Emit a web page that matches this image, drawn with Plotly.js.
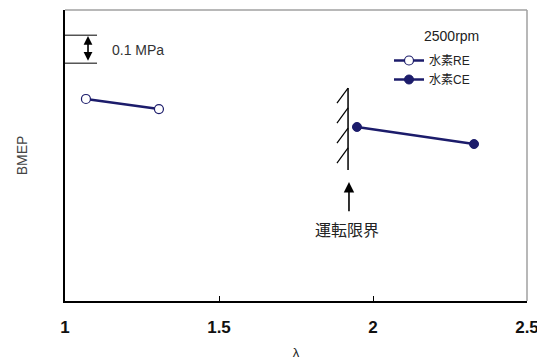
<!DOCTYPE html>
<html>
<head>
<meta charset="utf-8">
<script src="https://cdn.plot.ly/plotly-3.0.1.min.js"></script>
<style>html,body{margin:0;padding:0;background:#fff;}#chart{width:537px;height:360px;}</style>
</head>
<body>
<div id="chart"></div>
<script>
// Data (x = λ, y = BMEP in MPa, arbitrary offset)
var reLambda = [1.068, 1.305];
var reBmep   = [0.722, 0.686];
var ceLambda = [1.948, 2.328];
var ceBmep   = [0.622, 0.561];
var xTicks = [1, 1.5, 2, 2.5];
var xTickLabels = ['1', '1.5', '2', '2.5'];
var speedLabel = '2500rpm';
var seriesNames = ['水素RE', '水素CE'];
var limitLabel = '運転限界';
var scaleLabel = '0.1 MPa';
var limitLambda = 1.919;
var limitTop = 0.761, limitBottom = 0.468;
var hatchTops = [0.761, 0.690, 0.618, 0.547];
var scaleLow = 0.85, scaleHigh = 0.95;

var FONT = '"Liberation Sans", Arial, "Noto Sans CJK JP", sans-serif';
var NAVY = '#1c1c6b';

var traces = [
  {x: reLambda, y: reBmep, name: seriesNames[0], type: 'scatter', mode: 'lines+markers',
   line: {color: NAVY, width: 2.5},
   marker: {symbol: 'circle', size: 9, color: '#ffffff', line: {color: NAVY, width: 1.2}}},
  {x: ceLambda, y: ceBmep, name: seriesNames[1], type: 'scatter', mode: 'lines+markers',
   line: {color: NAVY, width: 2.5},
   marker: {symbol: 'circle', size: 9, color: NAVY, line: {color: NAVY, width: 1}}}
];

var shapes = [
  // top & right frame (gray)
  {type: 'line', xref: 'paper', yref: 'paper', x0: 0, x1: 1, y0: 1, y1: 1, line: {color: '#a0a0a0', width: 1.5}},
  {type: 'line', xref: 'paper', yref: 'paper', x0: 1, x1: 1, y0: 0, y1: 1, line: {color: '#a0a0a0', width: 1.5}},
  // scale bar lines
  {type: 'line', xref: 'x', yref: 'y', x0: 1, x1: 1.104, y0: scaleHigh, y1: scaleHigh, line: {color: '#000', width: 1}},
  {type: 'line', xref: 'x', yref: 'y', x0: 1, x1: 1.104, y0: scaleLow, y1: scaleLow, line: {color: '#000', width: 1}},
  // operating limit wall
  {type: 'line', xref: 'x', yref: 'y', x0: limitLambda, x1: limitLambda, y0: limitBottom, y1: limitTop, line: {color: '#000', width: 1.5}}
];
hatchTops.forEach(function (t) {
  shapes.push({type: 'line', xref: 'x', yref: 'y', x0: limitLambda - 0.036, x1: limitLambda,
               y0: t - 0.054, y1: t, line: {color: '#000', width: 1.2}});
});

var annotations = [
  {x: 1.0747, y: scaleHigh - 0.003, ax: 1.0747, ay: scaleLow + 0.003, xref: 'x', yref: 'y', axref: 'x', ayref: 'y',
   text: '', showarrow: true, arrowhead: 2, startarrowhead: 2, arrowside: 'end+start', arrowsize: 1.1, startarrowsize: 1.1,
   arrowwidth: 1.6, arrowcolor: '#000'},
  {x: 1.146, y: 0.897, xref: 'x', yref: 'y', text: scaleLabel, showarrow: false, xanchor: 'left', yanchor: 'middle',
   font: {family: FONT, size: 14, color: '#333'}},
  {x: 1.922, y: 0.425, ax: 1.922, ay: 0.315, xref: 'x', yref: 'y', axref: 'x', ayref: 'y',
   text: '', showarrow: true, arrowhead: 2, arrowsize: 1.3, arrowwidth: 1.6, arrowcolor: '#000'},
  {x: 1.9156, y: 0.257, xref: 'x', yref: 'y', text: limitLabel, showarrow: false, yanchor: 'middle',
   font: {family: '"Noto Sans CJK JP", sans-serif', size: 16, color: '#222'}},
  {x: (481 - 65) / 462, y: (301 - 36) / 291, xref: 'paper', yref: 'paper', text: speedLabel, showarrow: false,
   xanchor: 'right', yanchor: 'middle', font: {family: FONT, size: 14, color: '#222'}}
];

var layout = {
  width: 537, height: 360,
  margin: {l: 65, r: 10, t: 10, b: 59},
  paper_bgcolor: '#fff', plot_bgcolor: '#fff',
  showlegend: true,
  legend: {x: (389 - 65) / 462, y: (301 - 46) / 291, xanchor: 'left', yanchor: 'top',
           font: {family: FONT, size: 12, color: '#222'}, bgcolor: 'rgba(0,0,0,0)',
           tracegroupgap: 0, itemclick: false},
  xaxis: {range: [1, 2.5], tickvals: xTicks, ticktext: xTickLabels, ticks: 'inside', ticklen: 5,
          tickcolor: '#000', tickwidth: 1, showgrid: false, zeroline: false,
          showline: true, linecolor: '#000', linewidth: 2, ticklabeloverflow: 'allow',
          ticklabelstandoff: 10,
          tickfont: {family: FONT, size: 17, color: '#111', weight: 'bold'},
          title: {text: 'λ', font: {family: FONT, size: 13, color: '#222'}, standoff: 16}},
  yaxis: {range: [0, 1.04], showticklabels: false, ticks: '', showgrid: false, zeroline: false,
          showline: true, linecolor: '#000', linewidth: 2,
          title: {text: 'BMEP', font: {family: FONT, size: 14, color: '#444'}, standoff: 32}},
  shapes: shapes,
  annotations: annotations
};

Plotly.newPlot('chart', traces, layout, {displayModeBar: false, staticPlot: true});
</script>
</body>
</html>
